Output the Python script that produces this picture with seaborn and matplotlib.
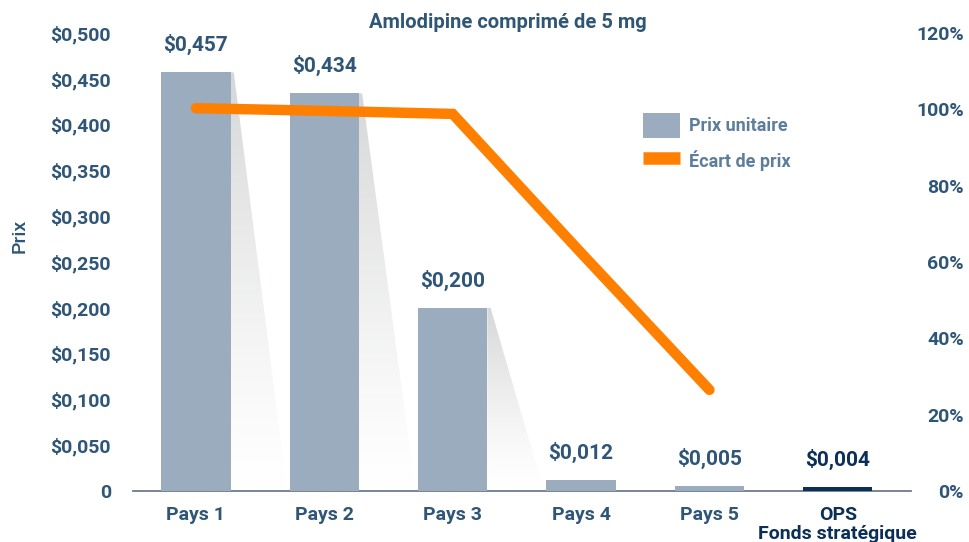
import numpy as np
import seaborn as sns
import matplotlib.pyplot as plt
from matplotlib.colors import LinearSegmentedColormap
from matplotlib.patches import Patch, Polygon
from matplotlib.lines import Line2D

sns.set_style('white')
plt.rcParams['font.family'] = ['Roboto', 'DejaVu Sans']

categories = ['Pays 1', 'Pays 2', 'Pays 3', 'Pays 4', 'Pays 5', 'OPS\nFonds stratégique']
prices = [0.457, 0.434, 0.200, 0.012, 0.005, 0.004]
price_labels = ['$0,457', '$0,434', '$0,200', '$0,012', '$0,005', '$0,004']
gap_pct = [100.3, 99.6, 98.8, 62.4, 26.5]
left_ticks = [0, 0.05, 0.1, 0.15, 0.2, 0.25, 0.3, 0.35, 0.4, 0.45, 0.5]
left_tick_labels = ['0', '$0,050', '$0,100', '$0,150', '$0,200', '$0,250',
                    '$0,300', '$0,350', '$0,400', '$0,450', '$0,500']
right_ticks = [0, 20, 40, 60, 80, 100, 120]
right_tick_labels = ['0%', '20%', '40%', '60%', '80%', '100%', '120%']

TEXT = '#2f5677'
BAR = '#9aacbd'
DARK = '#0b2f57'
ORANGE = '#ff7f00'

fig = plt.figure(figsize=(9.69, 5.42), dpi=100)
ax = fig.add_axes([133 / 969, 51 / 542, 778 / 969, 458 / 542])

bar_colors = [BAR] * 5 + [DARK]
sns.barplot(x=categories, y=prices, hue=categories, palette=bar_colors,
            legend=False, width=0.54, saturation=1, linewidth=0, ax=ax,
            zorder=3)

# fading shadows to the right of the first price bars
shade = LinearSegmentedColormap.from_list('shade', ['#ffffff', '#d6d7d8'])
grad = np.linspace(0, 1, 256).reshape(-1, 1)
half = 0.54 / 2
for i, h in enumerate(prices[:3]):
    xr = i + half
    img = ax.imshow(grad ** 1.3, cmap=shade, origin='lower', aspect='auto',
                    extent=[xr, xr + 0.44, 0, h], zorder=1)
    poly = Polygon([(xr, h), (xr + 0.025, h), (xr + 0.44, 0), (xr, 0)],
                   closed=True, transform=ax.transData)
    img.set_clip_path(poly)
ax.set_xlim(-0.49, 5.57)
ax.set_ylim(0, 0.5)

for i, (h, lab) in enumerate(zip(prices, price_labels)):
    col = DARK if i == 5 else TEXT
    ax.annotate(lab, (i, h), xytext=(0, 20), textcoords='offset points',
                ha='center', va='center', fontsize=15, fontweight='bold',
                color=col)

ax.set_yticks(left_ticks)
ax.set_yticklabels(left_tick_labels)
ax.tick_params(axis='y', length=0, pad=16, labelsize=14, labelcolor=TEXT)
ax.tick_params(axis='x', length=0, pad=11, labelsize=14, labelcolor=TEXT)
for lbl in ax.get_yticklabels() + ax.get_xticklabels():
    lbl.set_fontweight('bold')
ax.get_xticklabels()[5].set_color(DARK)
ax.get_xticklabels()[5].set_linespacing(1.05)
for side in ['left', 'right', 'top']:
    ax.spines[side].set_visible(False)
ax.spines['bottom'].set_color('#6b7b8c')
ax.spines['bottom'].set_linewidth(1.3)
ax.set_xlabel('')

ax2 = ax.twinx()
sns.lineplot(x=np.arange(len(gap_pct)), y=gap_pct, color=ORANGE, linewidth=7.5,
             ax=ax2, solid_capstyle='round', solid_joinstyle='miter')
ax2.set_ylim(0, 120)
ax2.set_yticks(right_ticks)
ax2.set_yticklabels(right_tick_labels)
ax2.tick_params(axis='y', length=0, pad=38, labelsize=14, labelcolor=TEXT)
for side in ['left', 'right', 'top', 'bottom']:
    ax2.spines[side].set_visible(False)
ax2.set_xlim(-0.49, 5.57)

handles = [Patch(facecolor=BAR, edgecolor='none'),
           Line2D([0], [0], color=ORANGE, linewidth=9, solid_capstyle='butt')]
leg = ax2.legend(handles, ['Prix unitaire', 'Écart de prix'],
                 loc='upper left', bbox_to_anchor=(0.634, 0.86), frameon=False,
                 fontsize=13, handlelength=2.1, handleheight=1.7,
                 handletextpad=0.5, labelspacing=0.6)
for t in leg.get_texts():
    t.set_color('#5d7e9a')
    t.set_fontweight('bold')

fig.text(508 / 969, 1 - 22 / 542, 'Amlodipine comprimé de 5 mg', ha='center',
         va='center', fontsize=14.5, fontweight='bold', color=TEXT)
fig.text(20 / 969, 1 - 236 / 542, 'Prix', rotation=90, ha='center',
         va='center', fontsize=14, fontweight='medium', color=TEXT)

fig.canvas.draw()
for lbl in ax2.get_yticklabels():
    lbl.set_fontweight('bold')
    lbl.set_horizontalalignment('right')

fig.savefig('out.png', dpi=100)
